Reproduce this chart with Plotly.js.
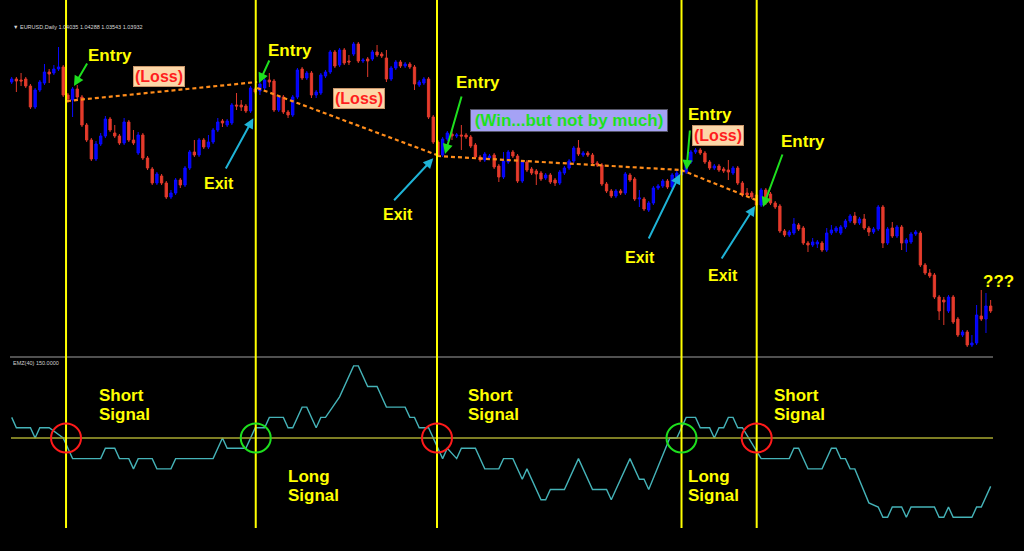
<!DOCTYPE html>
<html><head><meta charset="utf-8">
<script src="https://cdn.plot.ly/plotly-3.0.1.min.js"></script>
<style>html,body{margin:0;padding:0;background:#000;}#chart{width:1024px;height:551px;}</style>
</head><body><div id="chart"></div>
<script>
// ---- Price data (EURUSD daily, relative price points) ----
const openP = [318,321,320,321,314,293,310,317,328,327,331,333,305,300,311,303,275,260,241,256,
264,281,267,264,257,278,260,247,265,242,231,217,224,217,203,207,220,215,232,248,
245,260,253,258,270,279,275,277,295,295,294,289,311,309,312,320,319,290,303,288,
285,303,331,322,327,305,307,324,328,348,335,350,339,346,356,339,341,341,348,346,
342,321,332,338,334,336,333,315,317,321,283,258,245,261,266,264,265,265,263,255,
243,240,242,245,234,223,238,248,244,219,238,231,229,227,222,225,220,217,227,232,
239,252,245,247,245,237,235,216,209,204,209,207,225,221,201,201,190,197,212,214,
219,213,223,225,228,238,248,250,247,238,232,234,231,230,227,232,217,207,207,205,
195,210,206,197,194,169,165,167,175,172,157,155,156,157,150,167,169,167,173,179,
184,177,181,172,168,171,193,157,172,164,173,157,158,166,167,135,127,125,103,100,
89,103,81,65,68,55,57,84,81,94];
const highP = [323,323,327,323,316,312,320,336,331,335,353,335,307,313,315,305,277,262,259,267,
284,283,275,266,282,280,270,268,267,244,233,228,226,219,210,222,222,234,250,260,
262,262,265,272,282,281,281,297,307,300,296,314,313,320,322,327,321,305,305,290,
305,332,333,329,329,310,327,330,350,350,352,352,345,358,358,342,343,350,355,348,
350,334,340,340,338,338,335,320,323,323,285,260,263,269,270,267,275,267,265,257,
245,248,246,247,236,248,250,250,246,240,240,233,231,229,227,227,222,230,234,241,
254,260,249,249,247,239,237,218,211,211,211,228,227,223,210,203,199,214,216,221,
221,227,229,232,237,250,252,252,249,240,236,236,233,240,234,234,219,212,209,208,
212,212,208,199,196,171,170,182,177,174,159,162,160,159,172,175,174,175,181,186,
188,183,186,174,173,195,195,173,178,175,175,162,168,170,169,137,131,127,105,103,
105,105,83,70,70,65,95,110,107,100];
const lowP = [316,308,314,312,291,291,308,315,317,325,329,303,297,283,301,273,258,239,239,254,
262,268,262,255,255,258,255,245,240,230,215,215,215,201,201,205,212,213,230,243,
243,251,251,256,268,273,273,275,290,289,287,287,306,305,310,313,288,288,286,282,
283,301,320,320,302,302,305,322,326,332,333,335,335,344,337,337,323,339,343,342,
318,319,330,332,332,331,310,313,315,281,256,243,243,259,260,262,250,261,252,241,
238,238,240,231,218,221,236,242,217,217,228,225,215,219,220,216,214,215,225,230,
237,244,243,243,235,233,214,207,202,202,205,205,218,199,193,189,188,195,210,212,
211,211,221,223,226,236,246,245,236,230,230,228,227,220,225,215,203,203,201,193,
193,195,195,191,167,163,163,165,169,155,148,153,152,148,148,165,167,165,171,177,
175,175,170,164,166,169,152,155,162,162,150,148,156,164,133,125,122,101,80,75,
87,76,63,63,53,53,55,79,67,87];
const closeP = [321,319,319,314,293,310,318,328,326,331,333,305,301,311,303,275,260,241,256,264,
281,270,264,257,278,260,257,265,242,232,217,226,217,203,207,220,215,232,248,245,
260,253,258,270,278,277,279,295,294,293,289,312,308,316,320,318,290,303,288,285,
303,330,322,327,305,308,325,328,348,334,350,337,338,356,339,340,339,348,345,344,
321,332,338,334,336,333,316,318,321,283,258,245,261,267,264,265,264,263,254,243,
240,246,244,233,223,239,248,244,219,238,230,227,226,221,225,218,217,228,232,239,
252,246,247,245,237,235,216,209,204,209,207,226,220,201,202,191,197,212,214,219,
213,225,227,230,235,248,250,247,238,232,234,230,229,228,232,217,205,205,203,195,
210,197,197,193,169,165,168,176,171,157,155,158,158,150,167,170,172,173,179,184,
177,181,172,168,171,193,157,171,164,173,157,160,166,168,135,127,124,103,89,98,
103,78,65,68,55,57,85,81,94,89];
const bars = openP.map((_, i) => i);   // bar number (trading day sequence)

// ---- EMZ(40) indicator (turning points: bar, value) ----
const indBar = [0,1,4,5,6,8,11,13,19,20,22,23,25,26,27,30,31,34,35,43,45,46,50,52,54,55,58,59,60,62,
63,65,66,67,70,73,74,76,78,80,84,85,86,87,89,91,92,93,95,96,99,101,104,105,107,109,110,113,114,115,
118,121,124,127,128,132,134,135,136,140.5,142,144,146,147,149,150,151,152,153,154,155,156,160,166,167,168,170,173,175,176,
177,178,179,180,183,185,186,187,188,190,191,192,197,198,199,200,201,205,206,207,209];
const indVal = [2,1,1,0,1,1,0,-2,-2,-1,-1,-2,-2,-3,-2,-2,-3,-3,-2,-2,0,-1,-1,1,1,2,2,1,1,3,
3,1,2,2,4,7,7,5,5,3,3,2,2,1,1,-1,-2,-1,-2,-1,-1,-3,-3,-2,-2,-4,-3,-6,-6,-5,
-5,-2,-5,-5,-6,-2,-4,-4,-5,0,0,2,2,1,1,0,1,1,2,2,1,1,-2,-2,-1,-1,-3,-3,-1,-1,
-2,-2,-3,-3,-6.3,-6.7,-7.7,-7.7,-6.7,-6.7,-7.7,-6.7,-6.7,-7.7,-7.7,-6.7,-7.7,-7.7,-6.7,-6.7,-4.7];
const levelValue = 0;

// ---- Signals and trades ----
const signalBar  = [11.6, 52.1, 90.8, 143.0, 159.05];
const signalType = ['short', 'long', 'short', 'long', 'short'];
const entryBar   = [11.8, 52.4, 90.8, 142.9];
const entryPrice = [299, 312, 244, 230];
const exitBar    = [52.4, 90.8, 142.9, 158.9];
const exitPrice  = [318, 245, 230, 200];
const tradeResult = ['(Loss)', '(Loss)', '(Win...but not by much)', '(Loss)'];

// ---- helpers for layout (pixel -> paper) ----
const W = 1024, H = 551;
const px = x => x / W, py = y => 1 - y / H;
const FONT = 'Liberation Sans, Arial, sans-serif';
const YEL = '#ffff00', GRN = '#1ee01e', CYAN = '#1fb3d6';

const traces = [];
traces.push({
  type: 'candlestick', x: bars, open: openP, high: highP, low: lowP, close: closeP,
  xaxis: 'x', yaxis: 'y', whiskerwidth: 0,
  increasing: { line: { color: '#0a0aff', width: 1 }, fillcolor: '#0000ff' },
  decreasing: { line: { color: '#e0392b', width: 1 }, fillcolor: '#e63c2c' },
  hoverinfo: 'skip', showlegend: false
});
for (let i = 0; i < entryBar.length; i++) {
  traces.push({
    type: 'scatter', mode: 'lines', x: [entryBar[i], exitBar[i]], y: [entryPrice[i], exitPrice[i]],
    xaxis: 'x', yaxis: 'y', line: { color: '#ff8c1a', width: 2.2, dash: '4px,3px' },
    hoverinfo: 'skip', showlegend: false
  });
}
traces.push({
  type: 'scatter', mode: 'lines', x: indBar, y: indVal, xaxis: 'x', yaxis: 'y2',
  line: { color: '#45b3b8', width: 1.4 }, hoverinfo: 'skip', showlegend: false
});

const shapes = [];
// separator between panels
shapes.push({ type: 'line', xref: 'paper', yref: 'paper', x0: px(10), x1: px(993), y0: py(357), y1: py(357),
  line: { color: '#a0a0a0', width: 1.2 } });
// indicator level line
shapes.push({ type: 'line', xref: 'x', yref: 'y2', x0: -0.15, x1: 209.5, y0: levelValue, y1: levelValue,
  line: { color: '#a8a830', width: 1.5 } });
// vertical signal lines and circles
signalBar.forEach((b, i) => {
  shapes.push({ type: 'line', xref: 'x', yref: 'paper', x0: b, x1: b, y0: py(528), y1: 1,
    line: { color: YEL, width: 2 } });
  shapes.push({ type: 'circle', xref: 'x', yref: 'y2', xsizemode: 'pixel', ysizemode: 'pixel',
    xanchor: b, yanchor: levelValue, x0: -15, x1: 15, y0: -14.5, y1: 14.5,
    line: { color: signalType[i] === 'short' ? '#ff1a1a' : '#1ee01e', width: 2 } });
});

const ann = [];
function label(text, x, y, size, color, extra) {
  ann.push(Object.assign({ xref: 'paper', yref: 'paper', x: px(x), y: py(y), text: text, showarrow: false,
    xanchor: 'center', yanchor: 'middle', font: { family: FONT, size: size, color: color } }, extra || {}));
}
function arrow(tx, ty, ax, ay, color) {
  ann.push({ xref: 'paper', yref: 'paper', x: px(tx), y: py(ty), ax: ax, ay: ay, text: '', showarrow: true,
    arrowhead: 2, arrowsize: 1, arrowwidth: 2, arrowcolor: color, standoff: 0 });
}
// header texts
label('▼ EURUSD,Daily 1.04035 1.04288 1.03543 1.03932', 11, 27, 5.5, '#d8d8d8', { xanchor: 'left' });
label('EMZ(40) 150.0000', 11, 363, 5.5, '#d0d0d0', { xanchor: 'left' });
// Entry labels + arrows
label('<b>Entry</b>', 110, 56, 17, YEL);
label('<b>Entry</b>', 289.5, 50, 17, YEL);
label('<b>Entry</b>', 478, 82, 17, YEL);
label('<b>Entry</b>', 709.5, 115, 17, YEL);
label('<b>Entry</b>', 803, 141, 17, YEL);
arrow(74, 86, 14, -24, GRN);
arrow(259, 83, 11, -24, GRN);
arrow(445, 154, 17, -59, GRN);
arrow(686.5, 170, 3.5, -41, GRN);
arrow(763, 207, 20, -54, GRN);
// Exit labels + arrows
label('<b>Exit</b>', 218.5, 184, 16, YEL);
label('<b>Exit</b>', 398, 215, 16, YEL);
label('<b>Exit</b>', 640, 257, 16, YEL);
label('<b>Exit</b>', 722.7, 275.5, 16, YEL);
arrow(253.3, 118.3, -28.3, 51.7, CYAN);
arrow(433.3, 158.3, -40.6, 43.4, CYAN);
arrow(680, 174, -32, 66, CYAN);
arrow(755, 206, -34.3, 54, CYAN);
// result boxes
const lossBox = { bgcolor: '#fcd7a8', bordercolor: '#c8956a', borderwidth: 1, borderpad: 1 };
label('<b>' + tradeResult[0] + '</b>', 158.7, 76.3, 16, '#ff1e1e', lossBox);
label('<b>' + tradeResult[1] + '</b>', 358.8, 99, 16, '#ff1e1e', lossBox);
label('<b>' + tradeResult[2] + '</b>', 569.2, 120.3, 17, '#1ee01e',
  { bgcolor: '#a5a2f5', bordercolor: '#555566', borderwidth: 1, borderpad: 1, width: 194 });
label('<b>' + tradeResult[3] + '</b>', 718.3, 135.5, 16, '#ff1e1e', lossBox);
label('<b>???</b>', 998, 281.5, 17, YEL);
// signal labels
function sig(word, x) {
  const isShort = word === 'Short';
  const y1 = isShort ? 395 : 476, y2 = isShort ? 414 : 495;
  label('<b>' + word + '</b>', x, y1, 17, YEL, { xanchor: 'left' });
  label('<b>Signal</b>', x, y2, 17, YEL, { xanchor: 'left' });
}
sig('Short', 97); sig('Long', 285.5); sig('Short', 466); sig('Long', 686); sig('Short', 771.5);

const layout = {
  width: W, height: H, margin: { l: 0, r: 0, t: 0, b: 0, pad: 0 },
  paper_bgcolor: '#000', plot_bgcolor: '#000', showlegend: false,
  xaxis: { range: [-2.498, 216.12], visible: false, rangeslider: { visible: false }, fixedrange: true },
  yaxis: { range: [-151, 400], visible: false, domain: [0, 1], fixedrange: true },
  yaxis2: { range: [-10.971, 42.524], visible: false, overlaying: 'y', fixedrange: true },
  shapes: shapes, annotations: ann
};
Plotly.newPlot('chart', traces, layout, { displayModeBar: false, staticPlot: true });
</script>
</body></html>
